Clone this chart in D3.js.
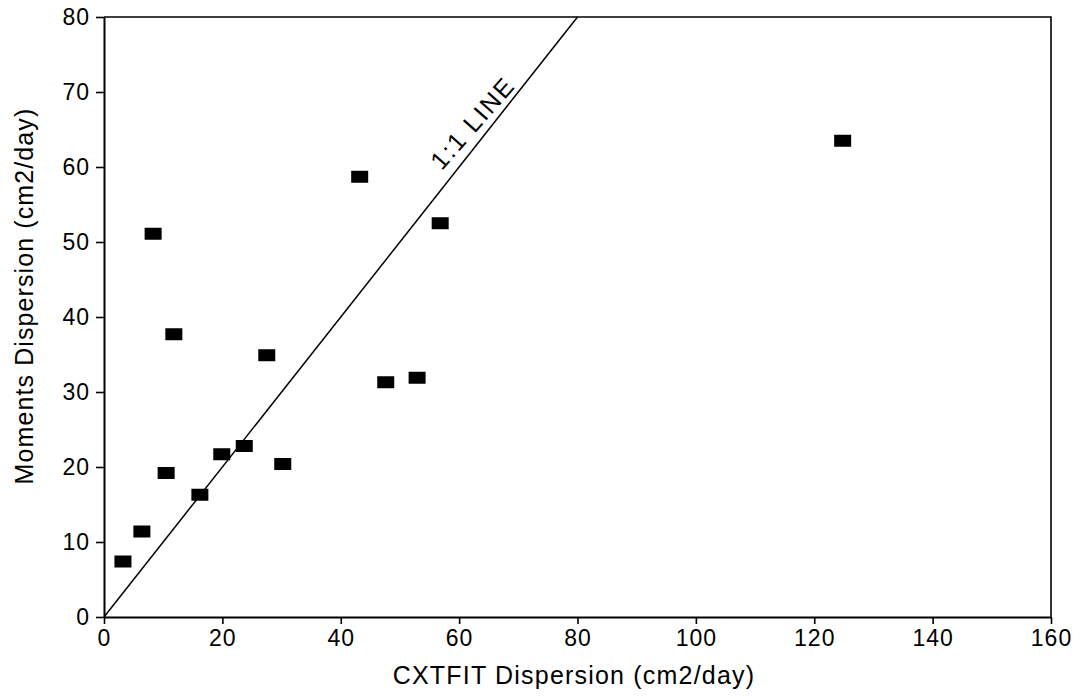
<!DOCTYPE html>
<html>
<head>
<meta charset="utf-8">
<script src="https://cdn.jsdelivr.net/npm/d3@7"></script>
<style>
  body { margin: 0; background: #fff; }
  svg { font-family: "Liberation Sans", Arial, sans-serif; }
  .axis path, .axis line { stroke: #000; }
  .axis text { font-size: 23px; fill: #000; letter-spacing: 1px; }
</style>
</head>
<body>
<div id="chart"></div>
<script>
// values
const cxtfit  = [3.2, 6.4, 8.3, 10.5, 11.8, 16.2, 19.9, 23.7, 27.5, 30.2, 43.2, 47.6, 52.9, 56.8, 124.8];
const moments = [7.4, 11.4, 51.1, 19.2, 37.7, 16.3, 21.7, 22.8, 34.9, 20.4, 58.7, 31.3, 31.9, 52.5, 63.5];
const xTicks = [0, 20, 40, 60, 80, 100, 120, 140, 160];
const yTicks = [0, 10, 20, 30, 40, 50, 60, 70, 80];
const oneToOne = [0, 80];

const width = 1085, height = 696;
const margin = { top: 17, right: 34, bottom: 79, left: 104 };

const svg = d3.select('#chart')
  .append('svg')
  .attr('width', width)
  .attr('height', height);

const x = d3.scaleLinear().domain([0, 160]).range([margin.left, width - margin.right]);
const y = d3.scaleLinear().domain([0, 80]).range([height - margin.bottom, margin.top]);

// frame (top + right)
svg.append('path')
  .attr('d', `M${x(0)},${y(80)}H${x(160)}V${y(0)}`)
  .attr('fill', 'none')
  .attr('stroke', '#000')
  .attr('stroke-width', 1.6);

const xAxis = svg.append('g')
  .attr('class', 'axis')
  .attr('transform', `translate(0,${y(0)})`)
  .call(d3.axisBottom(x).tickValues(xTicks).tickSize(7).tickPadding(6).tickSizeOuter(0));
xAxis.select('.domain').attr('stroke-width', 2.2);
xAxis.selectAll('.tick line').attr('stroke-width', 1.6);
xAxis.selectAll('.tick text').attr('font-size', 25);

const yAxis = svg.append('g')
  .attr('class', 'axis')
  .attr('transform', `translate(${x(0)},0)`)
  .call(d3.axisLeft(y).tickValues(yTicks).tickSize(8).tickPadding(6).tickSizeOuter(0));
yAxis.select('.domain').attr('stroke-width', 2);
yAxis.selectAll('.tick line').attr('stroke-width', 1.6);

// 1:1 line
svg.append('line')
  .attr('x1', x(oneToOne[0])).attr('y1', y(oneToOne[0]))
  .attr('x2', x(oneToOne[1])).attr('y2', y(oneToOne[1]))
  .attr('stroke', '#000')
  .attr('stroke-width', 1.5);

const ang = Math.atan2(y(oneToOne[1]) - y(0), x(oneToOne[1]) - x(0)) * 180 / Math.PI;
const lx = x(64.4), ly = y(64.4);
svg.append('text')
  .attr('transform', `translate(${lx},${ly}) rotate(${ang + 3}) translate(0,-8)`)
  .attr('text-anchor', 'middle')
  .attr('font-size', 25)
  .attr('letter-spacing', 2)
  .text('1:1 LINE');

// data squares
const pts = cxtfit.map((d, i) => ({ cx: d, m: moments[i] }));
svg.append('g')
  .selectAll('rect')
  .data(pts)
  .enter()
  .append('rect')
  .attr('x', d => x(d.cx) - 8.5)
  .attr('y', d => y(d.m) - 6)
  .attr('width', 17)
  .attr('height', 12)
  .attr('fill', '#000');

// axis titles
svg.append('text')
  .attr('x', 574)
  .attr('y', 684)
  .attr('text-anchor', 'middle')
  .attr('font-size', 25)
  .attr('letter-spacing', 1.2)
  .text('CXTFIT Dispersion (cm2/day)');

svg.append('text')
  .attr('transform', `translate(33,296) rotate(-90)`)
  .attr('text-anchor', 'middle')
  .attr('font-size', 25)
  .attr('letter-spacing', 1.1)
  .text('Moments Dispersion (cm2/day)');
</script>
</body>
</html>
